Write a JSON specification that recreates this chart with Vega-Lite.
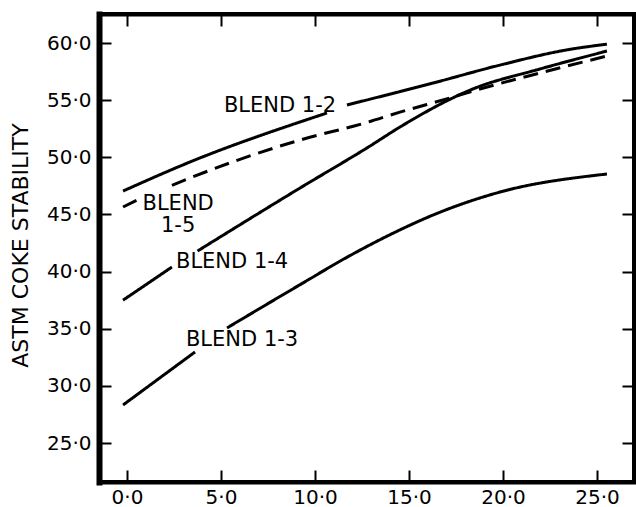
{
  "$schema": "https://vega.github.io/schema/vega-lite/v6.json",
  "width": 535,
  "height": 468,
  "autosize": "none",
  "padding": {"left": 99, "top": 14, "right": 2, "bottom": 25},
  "background": "white",
  "config": {
    "view": {"stroke": "black", "strokeWidth": 4},
    "font": "DejaVu Sans",
    "axis": {"grid": false, "domainColor": "black", "tickColor": "black", "labelColor": "black", "titleColor": "black", "domainCap": "square"}
  },
  "datasets": {
    "curves": [
      {"blend": "1-2", "seg": "1-2a", "style": "solid", "x": -0.21, "y": 47.05},
      {"blend": "1-2", "seg": "1-2a", "style": "solid", "x": 3.35, "y": 49.59},
      {"blend": "1-2", "seg": "1-2a", "style": "solid", "x": 10.64, "y": 53.88},
      {"blend": "1-2", "seg": "1-2b", "style": "solid", "x": 11.7, "y": 54.58},
      {"blend": "1-2", "seg": "1-2b", "style": "solid", "x": 16.28, "y": 56.5},
      {"blend": "1-2", "seg": "1-2b", "style": "solid", "x": 19.84, "y": 58.07},
      {"blend": "1-2", "seg": "1-2b", "style": "solid", "x": 23.4, "y": 59.4},
      {"blend": "1-2", "seg": "1-2b", "style": "solid", "x": 25.53, "y": 59.9},
      {"blend": "1-5", "seg": "1-5a", "style": "dashed", "x": -0.21, "y": 45.65},
      {"blend": "1-5", "seg": "1-5a", "style": "dashed", "x": 0.53, "y": 46.26},
      {"blend": "1-5", "seg": "1-5b", "style": "dashed", "x": 2.39, "y": 47.55},
      {"blend": "1-5", "seg": "1-5b", "style": "dashed", "x": 3.35, "y": 48.19},
      {"blend": "1-5", "seg": "1-5b", "style": "dashed", "x": 9.2, "y": 51.51},
      {"blend": "1-5", "seg": "1-5b", "style": "dashed", "x": 12.66, "y": 53.0},
      {"blend": "1-5", "seg": "1-5b", "style": "dashed", "x": 14.52, "y": 53.95},
      {"blend": "1-5", "seg": "1-5b", "style": "dashed", "x": 17.18, "y": 55.2},
      {"blend": "1-5", "seg": "1-5b", "style": "dashed", "x": 18.4, "y": 55.8},
      {"blend": "1-5", "seg": "1-5b", "style": "dashed", "x": 21.97, "y": 57.38},
      {"blend": "1-5", "seg": "1-5b", "style": "dashed", "x": 25.53, "y": 58.86},
      {"blend": "1-4", "seg": "1-4a", "style": "solid", "x": -0.21, "y": 37.5},
      {"blend": "1-4", "seg": "1-4a", "style": "solid", "x": 2.39, "y": 40.4},
      {"blend": "1-4", "seg": "1-4b", "style": "solid", "x": 3.75, "y": 41.8},
      {"blend": "1-4", "seg": "1-4b", "style": "solid", "x": 9.2, "y": 47.31},
      {"blend": "1-4", "seg": "1-4b", "style": "solid", "x": 12.93, "y": 50.99},
      {"blend": "1-4", "seg": "1-4b", "style": "solid", "x": 14.52, "y": 52.65},
      {"blend": "1-4", "seg": "1-4b", "style": "solid", "x": 18.4, "y": 55.98},
      {"blend": "1-4", "seg": "1-4b", "style": "solid", "x": 21.97, "y": 57.73},
      {"blend": "1-4", "seg": "1-4b", "style": "solid", "x": 25.53, "y": 59.3},
      {"blend": "1-3", "seg": "1-3a", "style": "solid", "x": -0.21, "y": 28.33},
      {"blend": "1-3", "seg": "1-3a", "style": "solid", "x": 3.62, "y": 32.97},
      {"blend": "1-3", "seg": "1-3b", "style": "solid", "x": 5.32, "y": 35.07},
      {"blend": "1-3", "seg": "1-3b", "style": "solid", "x": 9.2, "y": 38.85},
      {"blend": "1-3", "seg": "1-3b", "style": "solid", "x": 11.86, "y": 41.4},
      {"blend": "1-3", "seg": "1-3b", "style": "solid", "x": 14.52, "y": 43.65},
      {"blend": "1-3", "seg": "1-3b", "style": "solid", "x": 16.28, "y": 44.95},
      {"blend": "1-3", "seg": "1-3b", "style": "solid", "x": 19.84, "y": 46.96},
      {"blend": "1-3", "seg": "1-3b", "style": "solid", "x": 25.53, "y": 48.54}
    ],
    "labels": [
      {"label": ["BLEND 1-2"], "x": 8.14, "y": 54.49},
      {"label": ["BLEND", "1-5"], "x": 2.72, "y": 45.91},
      {"label": ["BLEND 1-4"], "x": 5.59, "y": 40.84},
      {"label": ["BLEND 1-3"], "x": 6.12, "y": 34.0}
    ]
  },
  "layer": [
    {
      "data": {"name": "curves"},
      "mark": {"type": "line", "interpolate": "monotone", "strokeWidth": 3, "color": "black", "clip": true},
      "encoding": {
        "x": {
          "field": "x", "type": "quantitative",
          "scale": {"domain": [-1.49, 26.97], "nice": false, "zero": false},
          "axis": {"orient": "bottom", "values": [0, 5, 10, 15, 20, 25], "format": ".1f", "labelExpr": "replace(datum.label, '.', '·')", "tickSize": -12, "tickWidth": 2, "domainWidth": 4, "labelFontSize": 20, "labelPadding": 17, "title": null}
        },
        "y": {
          "field": "y", "type": "quantitative",
          "scale": {"domain": [21.59, 62.54], "nice": false, "zero": false},
          "axis": {"orient": "left", "values": [25, 30, 35, 40, 45, 50, 55, 60], "format": ".1f", "labelExpr": "replace(datum.label, '.', '·')", "tickSize": -12, "tickWidth": 2, "domainWidth": 6, "labelFontSize": 20, "labelPadding": 20, "title": "ASTM COKE STABILITY", "titleFontSize": 22, "titleFontWeight": "normal", "titleX": -79, "titleY": 231, "titleBaseline": "middle", "titleAngle": -90}
        },
        "detail": {"field": "seg"},
        "strokeDash": {"field": "style", "type": "nominal", "scale": {"domain": ["solid", "dashed"], "range": [[1, 0], [15, 8]]}, "legend": null}
      }
    },
    {
      "data": {"name": "labels"},
      "mark": {"type": "text", "fontSize": 21, "lineHeight": 22, "color": "black", "align": "center", "baseline": "middle"},
      "encoding": {
        "x": {
          "field": "x", "type": "quantitative",
          "scale": {"domain": [-1.49, 26.97], "nice": false, "zero": false},
          "axis": {"orient": "top", "values": [0, 5, 10, 15, 20, 25], "labels": false, "tickSize": -12, "tickWidth": 2, "domainWidth": 4, "title": null}
        },
        "y": {
          "field": "y", "type": "quantitative",
          "scale": {"domain": [21.59, 62.54], "nice": false, "zero": false},
          "axis": {"orient": "right", "values": [25, 30, 35, 40, 45, 50, 55, 60], "labels": false, "tickSize": -12, "tickWidth": 2, "domainWidth": 3, "title": null}
        },
        "text": {"field": "label"}
      }
    }
  ],
  "resolve": {"axis": {"x": "independent", "y": "independent"}}
}
